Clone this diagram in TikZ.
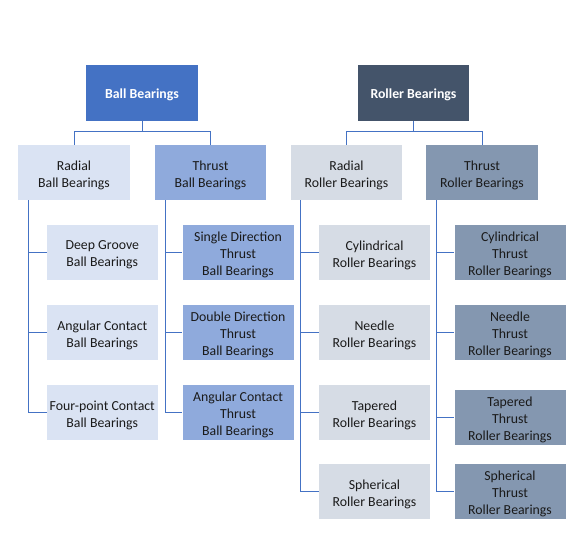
\documentclass[tikz,border=0pt]{standalone}
\usepackage{fontspec}
\setmainfont{Carlito}
\definecolor{cBall}{HTML}{4472C4}
\definecolor{cRoller}{HTML}{44546A}
\definecolor{cRB}{HTML}{DAE3F3}
\definecolor{cTB}{HTML}{8FAADC}
\definecolor{cRR}{HTML}{D6DCE5}
\definecolor{cTR}{HTML}{8497B0}
\definecolor{cLine}{HTML}{4472C4}
\definecolor{cText}{HTML}{1A1A1A}
\begin{document}
\begin{tikzpicture}[x=1pt,y=-1pt,
  lbl/.style={align=center, inner sep=0pt, yshift=-2.5pt, text=cText,
    font=\fontsize{13.8}{16.9}\selectfont},
  toplbl/.style={lbl, yshift=0.5pt, text=white, font=\fontsize{13.8}{16.9}\selectfont\bfseries},
  box/.style={rectangle, inner sep=0pt, minimum width=111pt, minimum height=55pt,
    label={[lbl]center:{#1}}},
  topbox/.style={rectangle, inner sep=0pt, minimum width=112pt, minimum height=56pt,
    label={[toplbl]center:{#1}}},
  conn/.style={draw=cLine, line width=1pt}]
\useasboundingbox (0,0) rectangle (583,556);
% top level
\node[topbox={Ball Bearings}, fill=cBall] (ball) at (142,93) {};
\node[topbox={Roller Bearings}, fill=cRoller, minimum width=111pt] (roller) at (413.5,93) {};
% second level
\node[box={Radial\\Ball Bearings}, fill=cRB, minimum width=112pt] (rb) at (74,172.5) {};
\node[box={Thrust\\Ball Bearings}, fill=cTB] (tb) at (210.5,172.5) {};
\node[box={Radial\\Roller Bearings}, fill=cRR] (rr) at (346.5,172.5) {};
\node[box={Thrust\\Roller Bearings}, fill=cTR, minimum width=112pt] (tr) at (482,172.5) {};
% radial ball children
\node[box={Deep Groove\\Ball Bearings}, fill=cRB] (rb1) at (102.3,252.5) {};
\node[box={Angular Contact\\Ball Bearings}, fill=cRB] (rb2) at (102.3,332.5) {};
\node[box={Four-point Contact\\Ball Bearings}, fill=cRB] (rb3) at (102.3,412.5) {};
% thrust ball children
\node[box={Single Direction\\Thrust\\Ball Bearings}, fill=cTB] (tb1) at (238,252.5) {};
\node[box={Double Direction\\Thrust\\Ball Bearings}, fill=cTB] (tb2) at (238,332.5) {};
\node[box={Angular Contact\\Thrust\\Ball Bearings}, fill=cTB] (tb3) at (238,412.5) {};
% radial roller children
\node[box={Cylindrical\\Roller Bearings}, fill=cRR] (rr1) at (374.5,252.5) {};
\node[box={Needle\\Roller Bearings}, fill=cRR] (rr2) at (374.5,332.5) {};
\node[box={Tapered\\Roller Bearings}, fill=cRR] (rr3) at (374.5,412.5) {};
\node[box={Spherical\\Roller Bearings}, fill=cRR] (rr4) at (374.5,491.5) {};
% thrust roller children
\node[box={Cylindrical\\Thrust\\Roller Bearings}, fill=cTR] (tr1) at (510,252.5) {};
\node[box={Needle\\Thrust\\Roller Bearings}, fill=cTR] (tr2) at (510,332.5) {};
\node[box={Tapered\\Thrust\\Roller Bearings}, fill=cTR] (tr3) at (510,417.5) {};
\node[box={Spherical\\Thrust\\Roller Bearings}, fill=cTR] (tr4) at (510,491.5) {};
% connectors top
\coordinate (bj) at (142,132);
\coordinate (rj) at (413.5,132);
\draw[conn] (ball.south) -- (bj) -| (rb.north);
\draw[conn] (bj) -| (tb.north);
\draw[conn] (roller.south) -- (rj) -| (rr.north);
\draw[conn] (rj) -| (tr.north);
% connectors to children
\foreach \c in {rb1,rb2,rb3} \draw[conn] ([xshift=11pt]rb.south west) |- (\c.west);
\foreach \c in {tb1,tb2,tb3} \draw[conn] ([xshift=11pt]tb.south west) |- (\c.west);
\foreach \c in {rr1,rr2,rr3,rr4} \draw[conn] ([xshift=10pt]rr.south west) |- (\c.west);
\foreach \c in {tr1,tr2,tr3,tr4} \draw[conn] ([xshift=10.5pt]tr.south west) |- (\c.west);
\end{tikzpicture}
\end{document}
